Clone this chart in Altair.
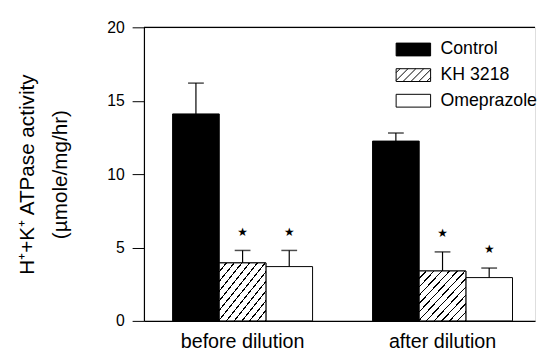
import altair as alt
import pandas as pd

groups = ["before dilution", "after dilution"]
treatments = ["Control", "KH 3218", "Omeprazole"]
means_before = [14.1, 3.95, 3.7]
means_after = [12.25, 3.4, 2.95]
errtop_before = [16.2, 4.8, 4.8]
errtop_after = [12.8, 4.7, 3.6]
signif_before = [False, True, True]
signif_after = [False, True, True]

rows = []
for g, means, tops, sig in [(groups[0], means_before, errtop_before, signif_before),
                            (groups[1], means_after, errtop_after, signif_after)]:
    for t, m, e, s in zip(treatments, means, tops, sig):
        rows.append({"group": g, "treatment": t, "mean": m, "top": e, "star": "★" if s else ""})
df = pd.DataFrame(rows)

FONT = "Liberation Sans"

# hatch gradient for bars (style)
N = 12
stops = []
for i in range(N):
    stops += [
        alt.GradientStop(offset=i / N, color="white"),
        alt.GradientStop(offset=(i + 0.82) / N, color="white"),
        alt.GradientStop(offset=(i + 0.82) / N, color="black"),
        alt.GradientStop(offset=(i + 1) / N, color="black"),
    ]
hatch = alt.LinearGradient(gradient="linear", stops=stops, x1=0, y1=0, x2=1, y2=1)

# legend symbol paths (style)
HW, HH = 1.75, 0.65
rect_path = f"M{-HW},{-HH}H{HW}V{HH}H{-HW}Z"
segs = []
a = -HW - 2 * HH + 0.4
while a < HW:
    t0 = max(0.0, -HW - a)
    t1 = min(2 * HH, HW - a)
    if t1 > t0:
        segs.append(f"M{a + t0:.3f},{HH - t0:.3f}L{a + t1:.3f},{HH - t1:.3f}")
    a += 0.8
hatch_path = rect_path + "".join(segs)

x_enc = alt.X("group:N", sort=groups,
              scale=alt.Scale(paddingInner=0.3, paddingOuter=0.128, align=0.56),
              axis=alt.Axis(title=None, ticks=False, labelAngle=0, labelFontSize=20,
                            labelFont=FONT, labelColor="black", labelPadding=11,
                            domainColor="black", domainWidth=1.2))
xo_enc = alt.XOffset("treatment:N", sort=treatments,
                     scale=alt.Scale(paddingInner=0, paddingOuter=0))
y_scale = alt.Scale(domain=[0, 20])

base = alt.Chart(df)

legend = alt.Legend(title=None, orient="none", legendX=263, legendY=12,
                    labelFont=FONT, labelFontSize=18, labelColor="black",
                    symbolSize=400, symbolStrokeWidth=1,
                    rowPadding=6, labelOffset=17)

color_scale = alt.Scale(domain=treatments, range=["black", "white", "white"])
stroke_scale = alt.Scale(domain=treatments, range=["black", "black", "black"])
shape_scale = alt.Scale(domain=treatments, range=[rect_path, hatch_path, rect_path])

legend_pts = base.transform_calculate(half="datum.mean / 2").mark_point(
    filled=True, size=2, opacity=1, strokeWidth=1).encode(
    x=x_enc, xOffset=xo_enc,
    y=alt.Y("half:Q", scale=y_scale),
    fill=alt.Fill("treatment:N", scale=color_scale, legend=legend, sort=treatments),
    stroke=alt.Stroke("treatment:N", scale=stroke_scale, legend=legend, sort=treatments),
    shape=alt.Shape("treatment:N", scale=shape_scale, legend=legend, sort=treatments),
)

bars = base.mark_bar(stroke="black", strokeWidth=1).encode(
    x=x_enc, xOffset=xo_enc,
    y=alt.Y("mean:Q", scale=y_scale,
            axis=alt.Axis(values=[0, 5, 10, 15, 20], grid=False, tickSize=12,
                          tickColor="black", domainColor="black", domainWidth=1.2,
                          labelFont=FONT, labelFontSize=16, labelColor="black",
                          labelPadding=8,
                          title=["H⁺+K⁺ ATPase activity", "(µmole/mg/hr)"],
                          titleFont=FONT, titleFontSize=21, titleFontWeight="normal",
                          titleColor="black", titleLineHeight=33,
                          titleX=-118, titleY=149, titleAlign="center",
                          titleBaseline="middle", titleAngle=-90)),
    fill=alt.Fill("treatment:N", scale=color_scale, legend=legend, sort=treatments),
)

hatched = base.transform_filter(alt.datum.treatment == "KH 3218").mark_bar(
    stroke="black", strokeWidth=1, fill=hatch).encode(
    x=x_enc, xOffset=xo_enc, y=alt.Y("mean:Q", scale=y_scale))

err = base.mark_rule(color="black", strokeWidth=1.2).encode(
    x=x_enc, xOffset=xo_enc, y=alt.Y("mean:Q", scale=y_scale), y2="top:Q")

caps = base.mark_tick(color="black", thickness=1.5, size=16, orient="horizontal").encode(
    x=x_enc, xOffset=xo_enc, y=alt.Y("top:Q", scale=y_scale))

stars = base.mark_text(fontSize=12, dy=-19, color="black", font="DejaVu Sans").encode(
    x=x_enc, xOffset=xo_enc, y=alt.Y("top:Q", scale=y_scale), text="star:N")

top_line = alt.Chart(pd.DataFrame({"v": [20]})).mark_rule(color="black", strokeWidth=1.2).encode(
    y=alt.Y("v:Q", scale=y_scale))

chart = alt.layer(legend_pts, bars, hatched, err, caps, stars, top_line).properties(
    width=397, height=298,
    padding={"left": 138, "top": 17, "right": 2, "bottom": 32},
    autosize=alt.AutoSizeParams(type="none"),
).configure_view(stroke=None).configure(background="white")

chart.save("out.html", embed_options={"renderer": "svg", "actions": False})
